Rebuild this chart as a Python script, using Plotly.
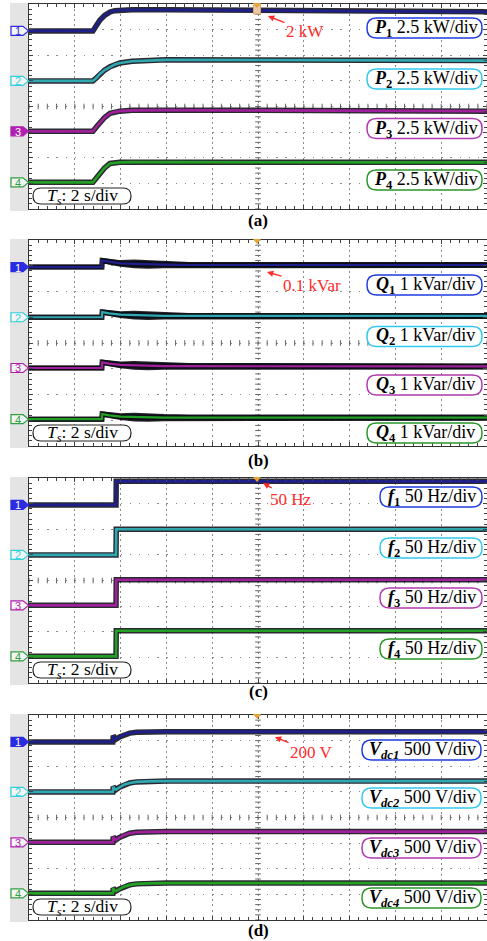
import numpy as np
import plotly.graph_objects as go

# ---------------- data ----------------
# time axis: 10 div x 2 s/div
T_RANGE = [0, 20]
# channel offsets (in divisions from the bottom of the screen)
CH_OFFSET_DIV = [6.95, 5.0, 3.03, 1.04]

# (a) active power, kW  (2.5 kW/div)
t_P = [0, 2.79, 2.95, 3.10, 3.30, 3.54, 3.75, 3.97, 4.50, 6.0, 10.0, 15.0, 20.0]
P1 = [0, 0, 0.55, 1.07, 1.50, 1.85, 1.97, 2.03, 2.07, 2.07, 2.00, 1.92, 1.87]
P2 = [0, 0, 0.30, 0.68, 1.05, 1.38, 1.60, 1.75, 1.92, 2.05, 2.03, 2.00, 1.98]
P3 = [0, 0, 0.45, 0.88, 1.35, 1.75, 1.90, 1.97, 2.05, 2.07, 2.05, 2.00, 1.97]
P4 = [0, 0, 0.45, 0.88, 1.40, 1.85, 1.92, 1.95, 1.97, 1.97, 1.97, 1.96, 1.95]

# (b) reactive power, kVar (1 kVar/div); QW = half width of the ripple band
t_Q = [0, 3.18, 3.20, 3.5, 4.0, 4.6, 5.2, 5.9, 7.0, 10.0, 15.0, 20.0]
Q1 = [0, 0, 0.25, 0.20, 0.14, 0.12, 0.10, 0.09, 0.08, 0.08, 0.08, 0.08]
Q2 = [0, 0, 0.20, 0.15, 0.10, 0.08, 0.06, 0.05, 0.05, 0.05, 0.05, 0.05]
Q3 = [0, 0, 0.22, 0.17, 0.12, 0.10, 0.08, 0.07, 0.07, 0.07, 0.06, 0.06]
Q4 = [0, 0, 0.20, 0.15, 0.10, 0.08, 0.07, 0.06, 0.06, 0.06, 0.06, 0.06]
QW = [0.03, 0.03, 0.06, 0.07, 0.08, 0.12, 0.12, 0.09, 0.07, 0.07, 0.07, 0.07]

# (c) frequency, Hz (50 Hz/div)
t_f = [0, 3.80, 3.81, 20.0]
F1 = [0, 0, 46, 46]
F2 = [0, 0, 50, 50]
F3 = [0, 0, 50, 50]
F4 = [0, 0, 50, 50]

# (d) dc-link voltage, V (500 V/div)
t_V = [0, 3.66, 3.68, 3.74, 3.80, 3.95, 4.15, 4.40, 4.70, 5.20, 6.0, 20.0]
V1 = [0, 0, 120, 70, 55, 95, 140, 172, 190, 198, 200, 200]
V2 = [0, 0, 100, 55, 45, 90, 140, 175, 195, 205, 210, 210]
V3 = [0, 0, 110, 60, 50, 95, 145, 178, 197, 205, 210, 210]
V4 = [0, 0, 100, 55, 45, 85, 130, 165, 185, 195, 200, 200]

SCALES = [2.5, 1.0, 50.0, 500.0]
CAPTIONS = ["(a)", "(b)", "(c)", "(d)"]
LABELS = [
    ["<b><i>P</i><sub>%d</sub></b> 2.5 kW/div" % k for k in range(1, 5)],
    ["<b><i>Q</i><sub>%d</sub></b> 1 kVar/div" % k for k in range(1, 5)],
    ["<b><i>f</i><sub>%d</sub></b> 50 Hz/div" % k for k in range(1, 5)],
    ["<b><i>V</i><sub><i>dc%d</i></sub></b> 500 V/div" % k for k in range(1, 5)],
]
NOTES = ["2 kW", "0.1 kVar", "50 Hz", "200 V"]
TS_TEXT = "<i>T</i><sub><i>s</i></sub>: 2 s/div"

# ---------------- layout geometry (pixels) ----------------
W, H = 487, 941
X0, X1 = 29, 487
PANELS = [(4, 209), (240, 446), (478, 683), (715, 920)]
FONT = "Liberation Serif, Times New Roman, serif"

TRACE_COL = ["#1e1e8c", "#2fa8b2", "#a0209c", "#22a024"]
MARK_COL = ["#2b2be0", "#2fd0e0", "#b020b0", "#2f9f3f"]
BOX_COL = ["#1f3be0", "#33c8ee", "#b03ab0", "#2a962a"]
MARK_FILLED = [[False, False, True, False], [True, False, False, False],
               [True, False, False, False], [True, False, False, False]]
BOX_X = [(367, 482), (367, 482), (380, 482), (362, 481)]
BOX_YC = [[28, 79, 128.5, 180], [285, 336.5, 385, 433],
          [497, 548, 598, 649], [750, 798, 848, 898]]
ARROWS = [((268, 16), (305, 31)), ((267, 272), (312, 285)),
          ((263, 483), (291, 499)), ((275, 737), (311, 752))]
CAP_Y = [220, 460, 691, 930]

def P(x, y):
    return x / W, 1 - y / H

def rrect_path(x0, y0, x1, y1, r):
    def p(x, y):
        a, b = P(x, y)
        return "%.6f,%.6f" % (a, b)
    s = "M %s L %s Q %s %s L %s Q %s %s L %s Q %s %s L %s Q %s %s Z" % (
        p(x0 + r, y0), p(x1 - r, y0), p(x1, y0), p(x1, y0 + r), p(x1, y1 - r),
        p(x1, y1), p(x1 - r, y1), p(x0 + r, y1), p(x0, y1), p(x0, y1 - r),
        p(x0, y0 + r), p(x0, y0), p(x0 + r, y0))
    return s

def poly_path(points):
    return "M " + " L ".join("%.6f,%.6f" % P(x, y) for x, y in points) + " Z"

fig = go.Figure()
layout = dict(width=W, height=H, margin=dict(l=0, r=0, t=0, b=0), autosize=False,
              paper_bgcolor="white", plot_bgcolor="white", showlegend=False,
              font=dict(family=FONT, size=15, color="black"))
shapes, annos = [], []

series = [
    (t_P, [P1, P2, P3, P4]),
    (t_Q, [Q1, Q2, Q3, Q4]),
    (t_f, [F1, F2, F3, F4]),
    (t_V, [V1, V2, V3, V4]),
]

for i, (top, bot) in enumerate(PANELS):
    k = "" if i == 0 else str(i + 1)
    xr, yr = "x" + k, "y" + k
    common = dict(showticklabels=False, showgrid=True, gridcolor="#8a8a8a", gridwidth=1,
                  ticks="inside", tickcolor="#444", ticklen=4, showline=True,
                  linecolor="#333", linewidth=1, mirror="allticks", zeroline=False,
                  fixedrange=True)
    layout["xaxis" + k] = dict(common, domain=[X0 / W, X1 / W], range=T_RANGE, dtick=2, tick0=0,
                               anchor=yr, griddash="2px,3.12px",
                               minor=dict(dtick=0.4, ticks="inside", ticklen=3,
                                          tickcolor="#444", showgrid=False))
    layout["yaxis" + k] = dict(common, domain=[1 - bot / H, 1 - top / H], range=[0, 8], dtick=1,
                               tick0=0, anchor=xr, griddash="1.3px,7.86px",
                               minor=dict(dtick=0.2, ticks="inside", ticklen=3,
                                          tickcolor="#444", showgrid=False))

    # centre crosshair tick marks
    cx = np.arange(T_RANGE[0], T_RANGE[1] + 1e-9, 0.4)
    fig.add_trace(go.Scatter(x=cx, y=np.full(len(cx), 4.0), xaxis=xr, yaxis=yr, mode="markers",
                             marker=dict(symbol="line-ns", size=4, line=dict(width=1, color="#666")),
                             hoverinfo="skip"))
    cy = np.arange(0, 8 + 1e-9, 0.2)
    fig.add_trace(go.Scatter(x=np.full(len(cy), 10.0), y=cy, xaxis=xr, yaxis=yr, mode="markers",
                             marker=dict(symbol="line-ew", size=4, line=dict(width=1, color="#666")),
                             hoverinfo="skip"))

    t, chans = series[i]
    for c in range(4):
        y = CH_OFFSET_DIV[c] + np.array(chans[c], dtype=float) / SCALES[i]
        if i == 1:
            hw = np.array(QW) / SCALES[i]
            fig.add_trace(go.Scatter(x=list(t) + list(t)[::-1],
                                     y=list(y + hw) + list((y - hw)[::-1]),
                                     xaxis=xr, yaxis=yr, mode="lines", fill="toself",
                                     fillcolor="rgba(12,12,20,0.9)",
                                     line=dict(width=2.5, color="rgba(12,12,20,0.9)"),
                                     hoverinfo="skip"))
        fig.add_trace(go.Scatter(x=t, y=y, xaxis=xr, yaxis=yr, mode="lines",
                                 line=dict(width=5.5, color="rgba(12,12,20,0.88)"),
                                 hoverinfo="skip"))
        fig.add_trace(go.Scatter(x=t, y=y, xaxis=xr, yaxis=yr, mode="lines",
                                 line=dict(width=2.6 if i != 1 else 2.2, color=TRACE_COL[c]),
                                 hoverinfo="skip"))

    # gray channel strip at left
    x0p, y0p = P(10, top - 1)
    x1p, y1p = P(X0 - 0.5, bot + 2)
    shapes.append(dict(type="rect", xref="paper", yref="paper", x0=x0p, x1=x1p, y0=y1p, y1=y0p,
                       fillcolor="#e4e4e4", line=dict(width=0), layer="below"))

    # channel markers
    for c in range(4):
        yc = bot - CH_OFFSET_DIV[c] * (bot - top) / 8.0
        pts = [(11, yc - 4.5), (23, yc - 4.5), (28.5, yc), (23, yc + 4.5), (11, yc + 4.5)]
        filled = MARK_FILLED[i][c]
        shapes.append(dict(type="path", xref="paper", yref="paper", path=poly_path(pts),
                           fillcolor=MARK_COL[c] if filled else "#f4f4f4",
                           line=dict(color=MARK_COL[c], width=1.2)))
        ax, ay = P(17.5, yc + 0.5)
        annos.append(dict(xref="paper", yref="paper", x=ax, y=ay, text=str(c + 1), showarrow=False,
                          font=dict(family="Liberation Sans, Arial, sans-serif", size=11,
                                    color="white" if filled else MARK_COL[c]),
                          xanchor="center", yanchor="middle"))

    # channel scale boxes
    bx0, bx1 = BOX_X[i]
    for c in range(4):
        yc = BOX_YC[i][c]
        shapes.append(dict(type="path", xref="paper", yref="paper",
                           path=rrect_path(bx0, yc - 10, bx1, yc + 10, 9.5),
                           fillcolor="white", line=dict(color=BOX_COL[c], width=1.5)))
        ax, ay = P((bx0 + bx1) / 2 + 1, yc + 0.5)
        annos.append(dict(xref="paper", yref="paper", x=ax, y=ay, text=LABELS[i][c],
                          showarrow=False, font=dict(family=FONT, size=18, color="black"),
                          xanchor="center", yanchor="middle"))

    # time base box
    shapes.append(dict(type="path", xref="paper", yref="paper",
                       path=rrect_path(33, bot - 21, 131, bot - 5, 8),
                       fillcolor="white", line=dict(color="#222", width=1.2)))
    ax, ay = P(82, bot - 12.5)
    annos.append(dict(xref="paper", yref="paper", x=ax, y=ay, text=TS_TEXT, showarrow=False,
                      font=dict(family=FONT, size=17.5, color="black"),
                      xanchor="center", yanchor="middle"))

    # trigger position marker
    if i == 0:
        a0, b0 = P(253.5, 5)
        a1, b1 = P(260.5, 14)
        shapes.append(dict(type="rect", xref="paper", yref="paper", x0=a0, x1=a1, y0=b1, y1=b0,
                           fillcolor="#e6c9a2", line=dict(color="#d9a868", width=1)))
    tri = [(253, top - 1), (261, top - 1), (257, top + 4)]
    shapes.append(dict(type="path", xref="paper", yref="paper", path=poly_path(tri),
                       fillcolor="#e8a234", line=dict(width=0)))

    # red annotation with arrow
    (hx, hy), (tx, ty) = ARROWS[i]
    ax, ay = P(hx, hy)
    annos.append(dict(xref="paper", yref="paper", x=ax, y=ay, ax=tx - hx, ay=ty - hy,
                      text=NOTES[i], showarrow=True, arrowhead=2, arrowsize=0.9,
                      arrowwidth=1.4, arrowcolor="#ff2a2a", standoff=0,
                      font=dict(family=FONT, size=17, color="#ff2a2a")))

    # caption
    ax, ay = P((X0 + X1) / 2, CAP_Y[i])
    annos.append(dict(xref="paper", yref="paper", x=ax, y=ay, text="<b>%s</b>" % CAPTIONS[i],
                      showarrow=False, font=dict(family=FONT, size=17, color="black"),
                      xanchor="center", yanchor="middle"))

layout["shapes"] = shapes
layout["annotations"] = annos
fig.update_layout(**layout)
fig.write_html("out.html")
